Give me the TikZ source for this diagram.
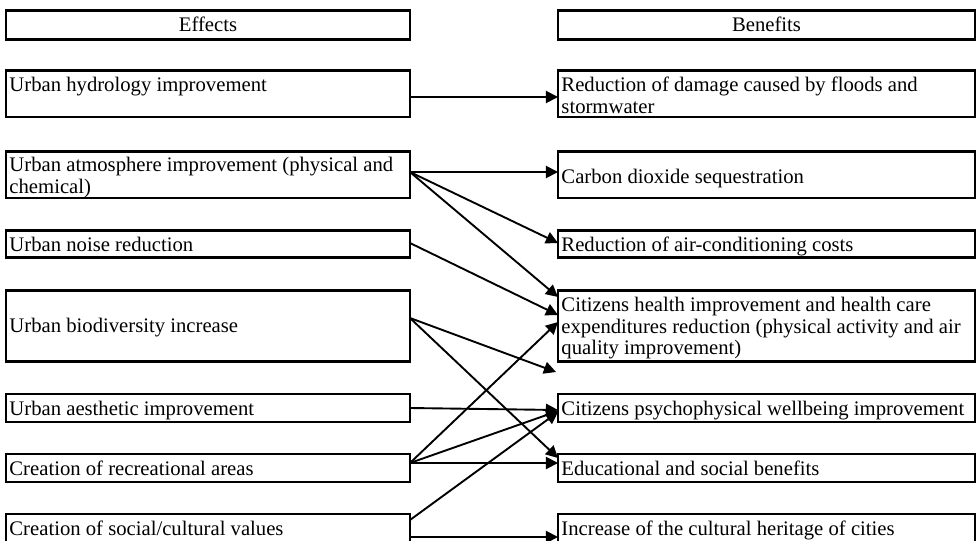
\documentclass[tikz,border=0pt]{standalone}
\usepackage{fontspec}
\setmainfont{Liberation Serif}
\usetikzlibrary{arrows.meta}
\newcommand\bxt[3]{\rule{0pt}{#1}#3\rule[-#2]{0pt}{#2}}
\begin{document}
\begin{tikzpicture}[x=0.58pt,y=-0.58pt,
  box/.style={draw, line width=1.4pt, inner xsep=2pt, inner ysep=0pt, outer sep=0pt,
    anchor=north west, align=flush left, font=\fontsize{12}{12.5}\selectfont},
  lbox/.style={box, text width=230.3pt, minimum width=234.3pt},
  rbox/.style={box, text width=237.9pt, minimum width=241.9pt},
  conn/.style={line width=1.1pt, -{Triangle[length=7pt,width=7pt]}}]
\useasboundingbox (0,0) rectangle (977,540);
\clip (0,0) rectangle (977,540);
\fill[white] (0,0) rectangle (977,540);

\node[lbox, align=center] (eff) at (6,10.7) {\bxt{12.2pt}{4.4pt}{Effects}};
\node[rbox, align=center] (ben) at (558,10.7) {\bxt{12.2pt}{4.4pt}{Benefits}};
\node[lbox] (hyd) at (6,70.7) {\bxt{12.2pt}{14.8pt}{Urban hydrology improvement}};
\node[rbox] (dam) at (558,70.7) {\bxt{12.2pt}{2.3pt}{Reduction of damage caused by floods and\\stormwater}};
\node[lbox] (atm) at (6,151.3) {\bxt{12pt}{2.6pt}{Urban atmosphere improvement (physical and\\chemical)}};
\node[rbox] (car) at (558,151.3) {\bxt{18.4pt}{8.7pt}{Carbon dioxide sequestration}};
\node[lbox] (noi) at (6,230.7) {\bxt{11.8pt}{3.7pt}{Urban noise reduction}};
\node[rbox] (air) at (558,230.7) {\bxt{11.8pt}{3.7pt}{Reduction of air-conditioning costs}};
\node[lbox] (bio) at (6,290.7) {\bxt{24.5pt}{16.5pt}{Urban biodiversity increase}};
\node[rbox] (hea) at (558,290.7) {\bxt{12.2pt}{3.8pt}{Citizens health improvement and health care\\expenditures reduction (physical activity and air\\quality improvement)}};
\node[lbox] (aes) at (6,394) {\bxt{12.6pt}{3.8pt}{Urban aesthetic improvement}};
\node[rbox] (psy) at (558,394) {\bxt{12.6pt}{3.8pt}{Citizens psychophysical wellbeing improvement}};
\node[lbox] (rec) at (6,454) {\bxt{12.2pt}{4.2pt}{Creation of recreational areas}};
\node[rbox] (edu) at (558,454) {\bxt{12.2pt}{4.2pt}{Educational and social benefits}};
\node[lbox] (soc) at (6,514) {\bxt{12.6pt}{10.6pt}{Creation of social/cultural values}};
\node[rbox] (cul) at (558,514) {\bxt{12.6pt}{10.6pt}{Increase of the cultural heritage of cities}};

\coordinate (bioend) at (556,372);

\draw[conn] (hyd.east |- 0,97) -- (dam.west |- 0,97);
\draw[conn] (atm.east |- 0,172) -- (car.west |- 0,172);
\draw[conn] (atm.east |- 0,172) -- (air.west |- 0,243);
\draw[conn] (atm.east |- 0,172) -- (hea.west |- 0,297);
\draw[conn] (noi.east |- 0,243) -- (hea.west |- 0,315);
\draw[conn] (bio.east |- 0,318) -- (bioend);
\draw[conn] (bio.east |- 0,318) -- (edu.west |- 0,458);
\draw[conn] (aes.east |- 0,408) -- (psy.west |- 0,410);
\draw[conn] (rec.east |- 0,463) -- (hea.west |- 0,322);
\draw[conn] (rec.east |- 0,463) -- (psy.west |- 0,411);
\draw[conn] (rec.east |- 0,463) -- (edu.west |- 0,463);
\draw[conn] (soc.east |- 0,520) -- (psy.west |- 0,412);
\draw[conn] (soc.east |- 0,537) -- (cul.west |- 0,537);
\end{tikzpicture}
\end{document}
